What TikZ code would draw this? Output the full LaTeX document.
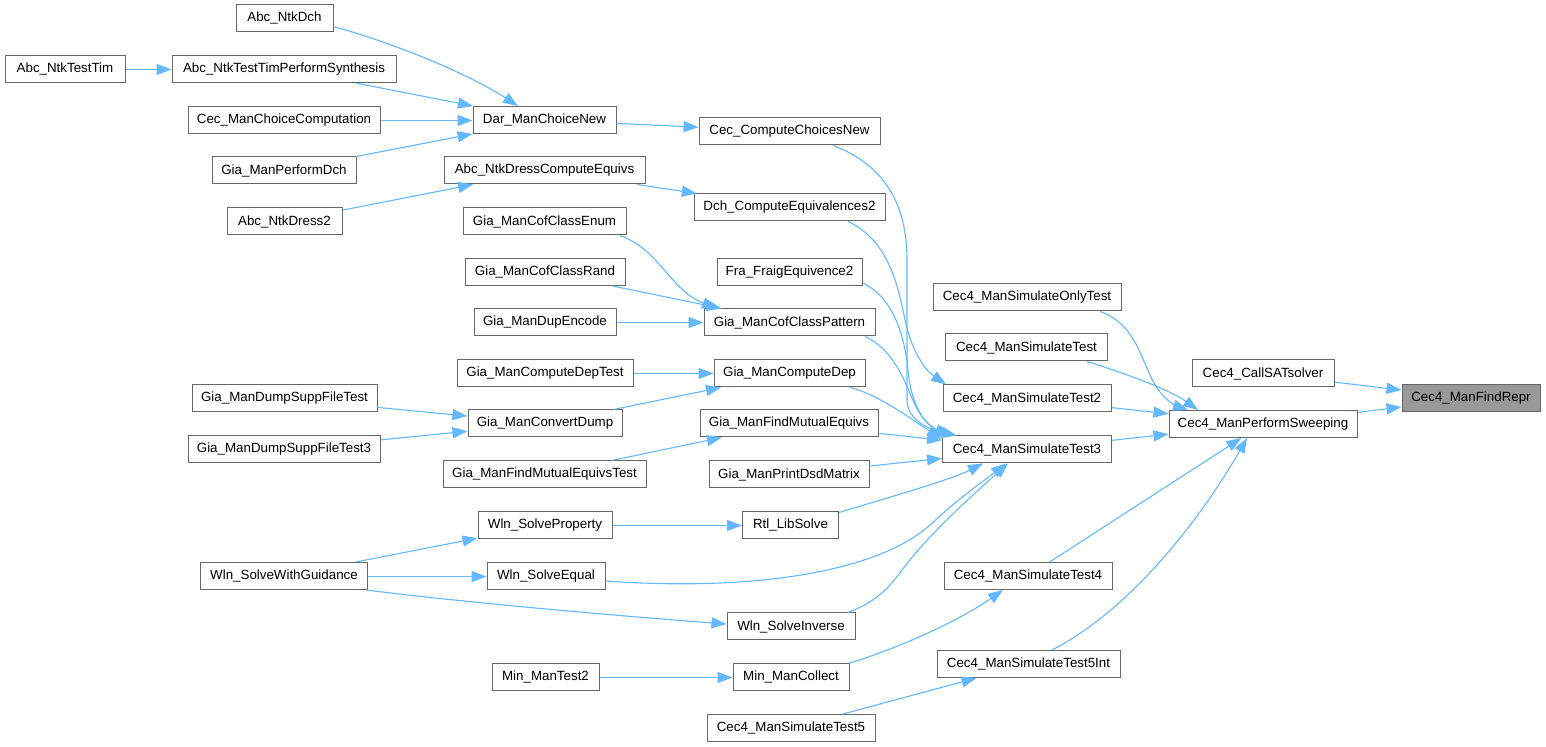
\documentclass[tikz,border=0pt]{standalone}
\usepackage{fontspec}
\setmainfont{Liberation Sans}
\usetikzlibrary{arrows.meta,calc}
\definecolor{edgec}{HTML}{63B8FF}
\definecolor{boxc}{HTML}{666666}
\definecolor{hic}{HTML}{999999}
\newcommand{\fnnode}[6][white]{\node[fnbox, fill=#1, minimum width=#5*0.5pt] (#2) at (#3,#4) {#6};}
\begin{document}
\begin{tikzpicture}[x=0.5pt,y=-0.5pt,
  fnbox/.style={draw=boxc, line width=0.5pt, minimum height=13.5pt, inner sep=0pt, font=\fontsize{6.67pt}{8pt}\selectfont},
  edge/.style={draw=edgec, line width=0.55pt, -{Triangle[length=7.5pt,width=5.5pt]}}]
\useasboundingbox (0,0) rectangle (1546,747);
% nodes
\fnnode{abcdch}{284.5}{18.5}{97}{Abc\_NtkDch}
\fnnode{tim}{65}{69}{120}{Abc\_NtkTestTim}
\fnnode{timps}{284}{69}{224}{Abc\_NtkTestTimPerformSynthesis}
\fnnode{ccc}{284}{120}{192}{Cec\_ManChoiceComputation}
\fnnode{pdch}{284}{170.5}{144}{Gia\_ManPerformDch}
\fnnode{dress2}{284.5}{221.5}{115}{Abc\_NtkDress2}
\fnnode{dar}{544.5}{120}{143}{Dar\_ManChoiceNew}
\fnnode{dresseq}{544.5}{170.5}{201}{Abc\_NtkDressComputeEquivs}
\fnnode{cofenum}{544.5}{221.5}{163}{Gia\_ManCofClassEnum}
\fnnode{ccn}{789.5}{131.5}{181}{Cec\_ComputeChoicesNew}
\fnnode{dch2}{789.5}{207.5}{191}{Dch\_ComputeEquivalences2}
\fnnode{cofrand}{545}{272}{160}{Gia\_ManCofClassRand}
\fnnode{fra}{789.5}{272}{145}{Fra\_FraigEquivence2}
\fnnode{dupenc}{545}{322.5}{142}{Gia\_ManDupEncode}
\fnnode{cofpat}{789.5}{322.5}{171}{Gia\_ManCofClassPattern}
\fnnode{deptest}{545}{373.5}{176}{Gia\_ManComputeDepTest}
\fnnode{dep}{789.5}{373.5}{151}{Gia\_ManComputeDep}
\fnnode{conv}{545}{423.5}{154}{Gia\_ManConvertDump}
\fnnode{mutual}{789}{423.5}{178}{Gia\_ManFindMutualEquivs}
\fnnode{mutualtest}{544.5}{474.5}{203}{Gia\_ManFindMutualEquivsTest}
\fnnode{dsd}{789}{474.5}{160}{Gia\_ManPrintDsdMatrix}
\fnnode{supp}{284.5}{398.5}{185}{Gia\_ManDumpSuppFileTest}
\fnnode{supp3}{284}{449.5}{192}{Gia\_ManDumpSuppFileTest3}
\fnnode{onlytest}{1027}{297.5}{188}{Cec4\_ManSimulateOnlyTest}
\fnnode{simtest}{1026.5}{347.5}{162}{Cec4\_ManSimulateTest}
\fnnode{sat}{1263}{373.5}{142}{Cec4\_CallSATsolver}
\fnnode[hic]{repr}{1471}{398.5}{138}{Cec4\_ManFindRepr}
\fnnode{t2}{1027}{398.5}{168}{Cec4\_ManSimulateTest2}
\fnnode{sweep}{1263}{424}{188}{Cec4\_ManPerformSweeping}
\fnnode{t3}{1027}{449.5}{169}{Cec4\_ManSimulateTest3}
\fnnode{wprop}{545}{525}{134}{Wln\_SolveProperty}
\fnnode{rtl}{790.5}{525}{96}{Rtl\_LibSolve}
\fnnode{weq}{546}{576}{118}{Wln\_SolveEqual}
\fnnode{t4}{1028}{576}{168}{Cec4\_ManSimulateTest4}
\fnnode{winv}{791}{626.5}{128}{Wln\_SolveInverse}
\fnnode{mintest}{545.5}{677}{107}{Min\_ManTest2}
\fnnode{mincol}{791}{677}{116}{Min\_ManCollect}
\fnnode{t5int}{1028.5}{664}{183}{Cec4\_ManSimulateTest5Int}
\fnnode{t5}{791}{728}{168}{Cec4\_ManSimulateTest5}
\fnnode{wsg}{284}{576}{167}{Wln\_SolveWithGuidance}
% straight edges
\foreach \a/\b in {timps/dar, pdch/dar, dress2/dresseq, dar/ccn, dresseq/dch2,
  cofrand/cofpat, conv/dep, supp/conv, supp3/conv, mutualtest/mutual,
  mutual/t3, dsd/t3, wsg/wprop, t5/t5int, t4/sweep, t2/sweep,
  t3/sweep, sat/repr, sweep/repr}
  \draw[edge] (\a) -- (\b);
% horizontal edges (pixel aligned)
\foreach \a/\b/\s in {tim/timps/0.5, ccc/dar/0.5, dupenc/cofpat/0, deptest/dep/0, wsg/weq/0.5, wprop/rtl/0.5, mintest/mincol/0.5}
  \draw[edge] ($(\a.east)+(0,\s)$) -- ($(\b.west)+(0,\s)$);
% curved edges
\draw[edge] ($(abcdch.east)+(0,8)$) .. controls (400,45) and (470,75) .. ($(dar.north)+(-26.5,0)$);
\draw[edge] ($(cofenum.south)+(75.5,0)$) .. controls (660,250) and (670,290) .. ($(cofpat.north)+(-72.5,0)$);
\draw[edge] ($(ccn.south)+(43.5,0)$) .. controls (885,165) and (907,205) .. (907,260) -- (907,400)
  .. controls (907,420) and (930,430) .. ($(t3.north)+(-70,0)$);
\draw[edge] ($(dch2.south)+(58.5,0)$) .. controls (888,240) and (898,285) .. (905,320)
  .. controls (912,352) and (925,370) .. ($(t2.north)+(-81,0)$);
\draw[edge] ($(fra.east)+(0,11)$) .. controls (895,298) and (905,340) .. (908,370)
  .. controls (911,405) and (925,425) .. ($(t3.north)+(-77,0)$);
\draw[edge] ($(cofpat.south)+(75.5,0)$) .. controls (895,350) and (906,385) .. (915,405)
  .. controls (922,420) and (935,430) .. ($(t3.north)+(-74,0)$);
\draw[edge] ($(dep.south)+(60.5,0)$) .. controls (880,395) and (912,420) .. ($(t3.north west)+(0,3)$);
\draw[edge] ($(rtl.north east)+(0,1.5)$) .. controls (890,497) and (950,480) .. ($(t3.south)+(-44,0)$);
\draw[edge] ($(weq.east)+(0,5)$) .. controls (760,592) and (880,570) .. (930,525)
  .. controls (960,497) and (985,480) .. ($(t3.south)+(-21,0)$);
\draw[edge] ($(winv.north)+(57,0)$) .. controls (875,602) and (888,590) .. (905,566)
  .. controls (935,528) and (975,493) .. ($(t3.south)+(-19,0)$);
\draw[edge] (mincol.north east) .. controls (900,648) and (960,620) .. ($(t4.south)+(-25,0)$);
\draw[edge] ($(onlytest.south)+(73,0)$) .. controls (1140,325) and (1142,370) .. (1160,392)
  .. controls (1168,402) and (1176,406) .. ($(sweep.north)+(-75,0)$);
\draw[edge] ($(simtest.south)+(60.5,0)$) .. controls (1130,375) and (1170,390) .. ($(sweep.north)+(-65,0)$);
\draw[edge] ($(t5int.north)+(23.5,0)$) .. controls (1130,610) and (1200,520) .. ($(sweep.south)+(-16,0)$);
\draw[edge] ($(wsg.south east)+(-2,0)$) .. controls (470,603) and (620,616) .. ($(winv.west)+(0,-2.5)$);
\end{tikzpicture}
\end{document}
